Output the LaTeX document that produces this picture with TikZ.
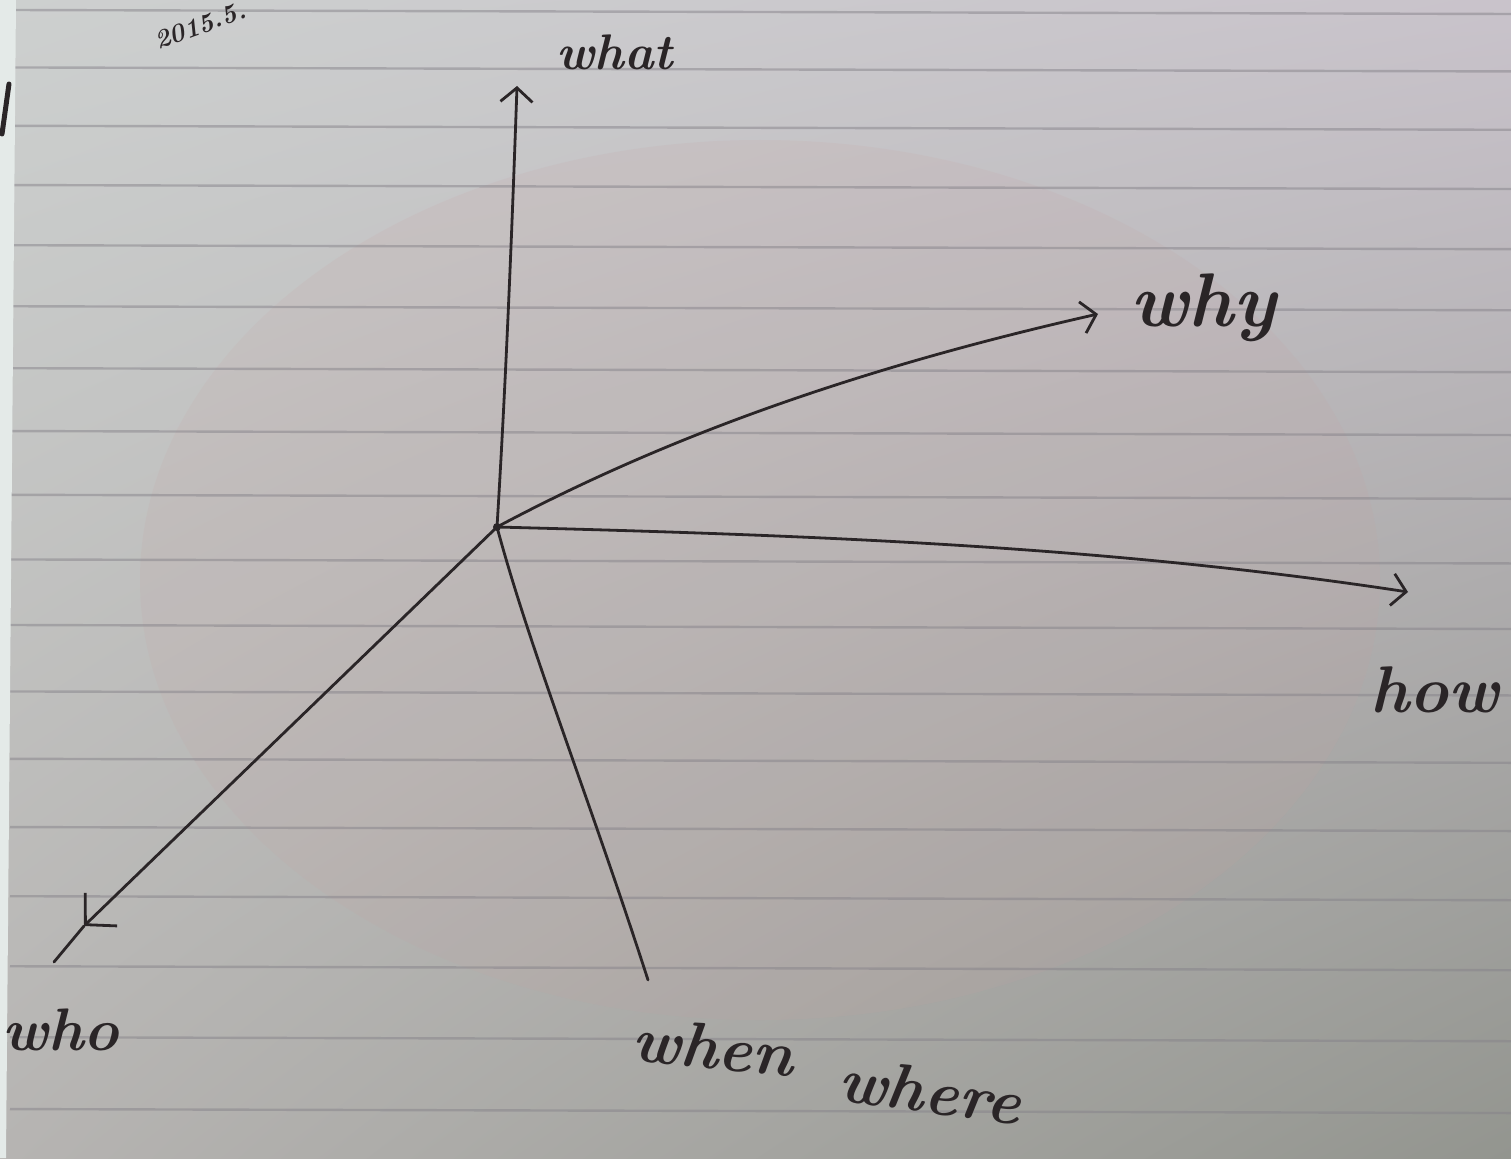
\documentclass[tikz,border=0pt]{standalone}
\usepackage{fontspec}
\usetikzlibrary{arrows.meta,shadings}
\definecolor{ink}{HTML}{2A2527}
\definecolor{paperUL}{HTML}{CDD0CF}
\definecolor{paperUR}{HTML}{C9C3CB}
\definecolor{paperLL}{HTML}{B6B4B2}
\definecolor{paperLR}{HTML}{93958F}
\definecolor{rulecol}{HTML}{86838A}
\definecolor{margin}{HTML}{E4EAE8}
\begin{document}
\begin{tikzpicture}[x=1pt,y=-1pt,
  axis/.style={ink, line width=2.8pt, line cap=round},
  barb/.style={-{Straight Barb[length=14pt,width=32pt,line width=2.8pt]}},
  bigbarb/.style={-{Straight Barb[length=22pt,width=46pt,line width=2.8pt]}},
  rule/.style={rulecol, opacity=0.5, line width=2.4pt},
  lbl/.style={ink, font=\itshape, inner sep=0pt, anchor=base west},
  inkdot/.style={circle, fill=ink, inner sep=0pt, minimum size=8pt}]
\useasboundingbox (0,0) rectangle (1511,1158);
\begin{scope}
\clip (0,0) rectangle (1511,1158);
% paper
\shade[upper left=paperUL, upper right=paperUR, lower left=paperLL, lower right=paperLR] (0,0) rectangle (1511,1158);
\fill[pink!55!gray, opacity=0.14] (760,580) ellipse (620 and 440);
% ruled lines
\foreach \i in {0,...,19} {
  \pgfmathsetmacro\yy{10+57*\i+0.45*\i*\i}
  \draw[rule] (10,\yy) -- (1511,\yy+4);
}
% left margin strip and mark
\fill[margin] (0,0) -- (16,0) -- (6,1158) -- (0,1158) -- cycle;
\draw[ink, line width=5pt, line cap=round] (9,84) -- (2,134);
\end{scope}
% date
\node[lbl, rotate=20, font=\bfseries\itshape\fontsize{26}{32}\selectfont] (date) at (158,50) {2015.5.};

% centre and end points
\node[inkdot] (O) at (497,527) {};
\coordinate (whatTip) at (517,86);
\coordinate (whyTip) at (1098,314);
\coordinate (howTip) at (1408,592);
\coordinate (whoTip) at (84,926);
\coordinate (whoEnd) at (54,962);
\coordinate (whenEnd) at (648,980);

% axes
\draw[axis, barb] (O.center) .. controls (506,380) and (512,230) .. (whatTip);
\draw[axis, barb] (O.center) .. controls (660,440) and (850,370) .. (whyTip);
\draw[axis, barb] (O.center) .. controls (800,535) and (1100,545) .. (howTip);
\draw[axis, bigbarb] (O.center) -- (whoTip);
\draw[axis] (whoTip) -- (whoEnd);
\draw[axis] (O.center) .. controls (530,650) and (590,800) .. (whenEnd);

% labels
\node[lbl, font=\bfseries\itshape\fontsize{50}{60}\selectfont] (what) at (556,70) {what};
\node[lbl, font=\bfseries\itshape\fontsize{76}{90}\selectfont] (why) at (1130,326) {why};
\node[lbl, font=\bfseries\itshape\fontsize{66}{80}\selectfont] (how) at (1370,712) {how};
\node[lbl, font=\bfseries\itshape\fontsize{60}{72}\selectfont] (who) at (2,1050) {who};
\node[lbl, rotate=-6, font=\bfseries\itshape\fontsize{64}{76}\selectfont] (when) at (630,1060) {when};
\node[lbl, rotate=-8, font=\bfseries\itshape\fontsize{64}{76}\selectfont] (where) at (836,1100) {where};
\end{tikzpicture}
\end{document}
